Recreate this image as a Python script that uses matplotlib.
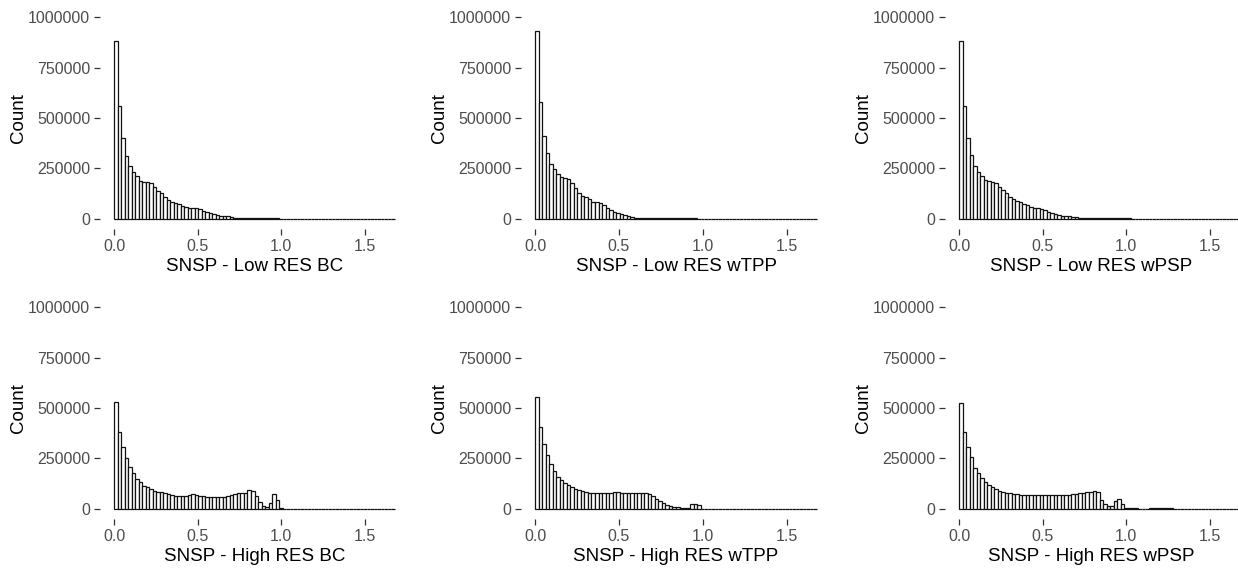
import numpy as np
import matplotlib
matplotlib.use("Agg")
from matplotlib import pyplot as plt

plt.rcParams['font.family'] = ['Liberation Sans', 'DejaVu Sans']

# === DATA (counts in thousands, one value per bin of width BIN_W starting at 0) ===
BIN_W = 0.021
N_BINS = 80

low_bc = [883, 559, 402, 313, 261, 231, 213, 190, 185, 185, 177, 160, 140, 130, 110, 94,
          86, 78, 73, 66, 61, 53, 52, 52, 48, 40, 33, 28, 23, 17, 15, 13, 12, 10,
          5, 5, 5, 4, 4, 4, 4, 4, 4, 4, 4, 4, 4]
low_wtpp = [929, 581, 412, 325, 272, 246, 223, 210, 203, 196, 177, 152, 127, 115, 107, 98,
            86, 86, 81, 68, 53, 45, 36, 31, 25, 20, 15, 10, 6, 5,
            5, 4, 4, 4, 4, 4, 4, 4, 4, 4, 4, 4, 4, 4, 4, 4]
low_wpsp = [883, 561, 402, 315, 262, 234, 214, 193, 188, 185, 177, 160, 144, 127, 110, 97,
            89, 83, 74, 69, 61, 53, 53, 50, 45, 36, 31, 26, 20, 15, 14, 14, 11, 9,
            5, 5, 5, 4, 4, 4, 4, 4, 4, 4, 4, 4, 4, 4, 4]
high_bc = [528, 380, 308, 254, 209, 180, 150, 134, 114, 107, 99, 91, 86, 82, 79, 72,
           70, 66, 65, 65, 66, 70, 72, 70, 66, 63, 61, 60, 60, 60, 60, 61, 66, 70, 76, 78,
           79, 80, 92, 87, 62, 35, 16, 10, 30, 74, 45, 5]
high_wtpp = [556, 404, 320, 266, 221, 187, 160, 142, 127, 119, 110, 99, 94, 88, 82, 79,
             77, 77, 77, 77, 77, 77, 82, 82, 79, 77, 77, 81, 81, 81, 81, 81, 74, 62, 50, 38,
             28, 20, 12, 8, 7, 4, 4, 5, 25, 26, 20]
high_wpsp = [526, 380, 308, 259, 204, 177, 152, 135, 119, 107, 99, 91, 86, 81, 79, 76,
             72, 70, 69, 68, 68, 68, 68, 68, 68, 68, 68, 68, 68, 68, 68, 68, 72, 74, 80, 81,
             82, 84, 88, 82, 45, 26, 12, 16, 38, 48, 25, 6, 4, 4, 4, 0, 0, 0,
             5, 5, 5, 5, 5, 5, 5]

PANELS = [
    (low_bc, "SNSP - Low RES BC"),
    (low_wtpp, "SNSP - Low RES wTPP"),
    (low_wpsp, "SNSP - Low RES wPSP"),
    (high_bc, "SNSP - High RES BC"),
    (high_wtpp, "SNSP - High RES wTPP"),
    (high_wpsp, "SNSP - High RES wPSP"),
]

Y_TICKS = [0, 250000, 500000, 750000, 1000000]
X_TICKS = [0.0, 0.5, 1.0, 1.5]

# === LAYOUT (figure fractions) ===
W, H = 1238, 571
col_left = [100 / W, 521 / W, 945 / W]
col_width = [309 / W, 310 / W, 293 / W]
row_bottom = [1 - 229 / H, 1 - 519 / H]
row_height = 222 / H
x_right = [1.764, 1.764, 1.668]

fig = plt.figure(figsize=(W / 100, H / 100), dpi=100)

edges = np.arange(N_BINS) * BIN_W

for idx, (vals, label) in enumerate(PANELS):
    r, c = divmod(idx, 3)
    ax = fig.add_axes([col_left[c], row_bottom[r], col_width[c], row_height])
    counts = np.zeros(N_BINS)
    counts[:len(vals)] = np.array(vals) * 1000
    ax.bar(edges, counts, width=BIN_W, align='edge', color='white',
           edgecolor='#111111', linewidth=0.9)
    ax.set_xlim(-0.084, x_right[c])
    ax.set_ylim(-50000, 1050000)
    ax.set_xticks(X_TICKS)
    ax.set_xticklabels([f"{t:.1f}" for t in X_TICKS])
    ax.set_yticks(Y_TICKS)
    ax.set_yticklabels([str(t) for t in Y_TICKS])
    for s in ax.spines.values():
        s.set_visible(False)
    ax.tick_params(direction='out', length=4, width=0.9, color='#333333',
                   labelcolor='#4D4D4D', labelsize=11.5, pad=3)
    ax.set_xlabel(label, fontsize=13.5, color='black', labelpad=3)
    ax.set_ylabel("Count", fontsize=13.5, color='black', labelpad=1)
    ax.patch.set_alpha(0)

fig.savefig("out.png", dpi=100, facecolor='white')
